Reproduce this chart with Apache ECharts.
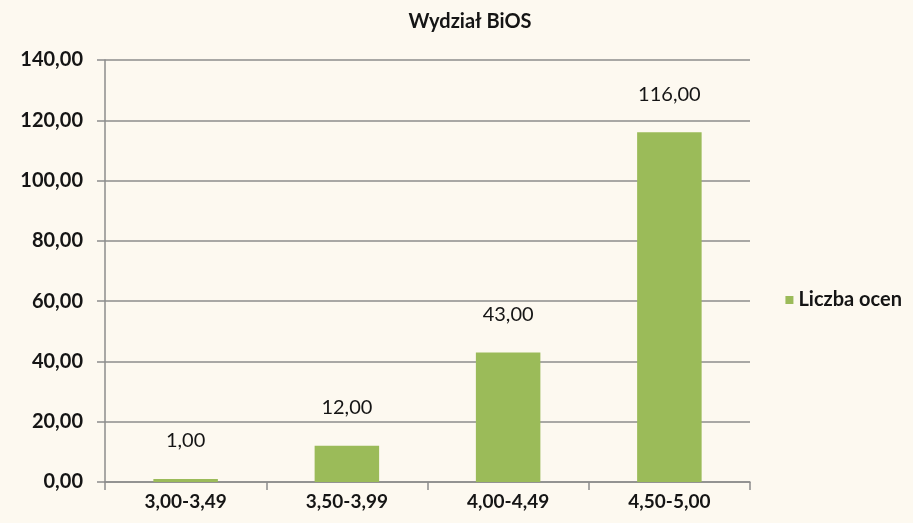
<!DOCTYPE html>
<html>
<head>
<meta charset="utf-8">
<title>Wydział BiOS</title>
<script src="https://cdn.jsdelivr.net/npm/echarts@6/dist/echarts.min.js"></script>
<style>
  html, body { margin: 0; padding: 0; background: #fdf9f0; }
  #main { width: 913px; height: 523px; }
</style>
</head>
<body>
<div id="main"></div>
<script>
// dane wykresu
var categories = ['3,00-3,49', '3,50-3,99', '4,00-4,49', '4,50-5,00'];
var liczbaOcen = [1, 12, 43, 116];
var seriesName = 'Liczba ocen';
var yMax = 140;
var yStep = 20;

// format z przecinkiem, np. 116,00
var fmt = function (v) {
    return Number(v).toFixed(2).replace('.', ',');
};

var chart = echarts.init(document.getElementById('main'));
var font = 'Lato, "Open Sans", sans-serif';

var option = {
    backgroundColor: '#fdf9f0',
    animation: false,
    title: {
        text: 'Wydział BiOS',
        left: 465,
        top: 7,
        textAlign: 'center',
        textStyle: { fontFamily: font, fontSize: 20, fontWeight: 'bold', color: '#151515' }
    },
    legend: {
        data: [seriesName],
        right: 6,
        top: 285,
        itemWidth: 8,
        itemHeight: 8,
        itemGap: 6,
        icon: 'rect',
        textStyle: { fontFamily: font, fontSize: 20, fontWeight: 'bold', color: '#151515' }
    },
    grid: {
        left: 105,
        right: 163,
        top: 60,
        bottom: 41
    },
    xAxis: {
        type: 'category',
        data: categories,
        axisLine: { lineStyle: { color: '#8c8c8c', width: 1.5 } },
        axisTick: { show: true, length: 8, lineStyle: { color: '#8c8c8c', width: 1.5 } },
        axisLabel: {
            fontFamily: font, fontSize: 19, fontWeight: 'bold', color: '#151515', margin: 10
        }
    },
    yAxis: {
        type: 'value',
        min: 0,
        max: yMax,
        interval: yStep,
        axisLine: { show: true, lineStyle: { color: '#8c8c8c', width: 1.5 } },
        axisTick: { show: true, length: 8, lineStyle: { color: '#8c8c8c', width: 1.5 } },
        splitLine: { lineStyle: { color: '#8c8c8c', width: 1.5 } },
        axisLabel: {
            fontFamily: font, fontSize: 20, fontWeight: 'bold', color: '#151515', margin: 22,
            formatter: fmt
        }
    },
    series: [
        {
            name: seriesName,
            type: 'bar',
            data: liczbaOcen,
            barWidth: '40%',
            itemStyle: { color: '#9bbb59' },
            label: {
                show: true,
                position: 'top',
                distance: 28,
                fontFamily: font,
                fontSize: 20,
                color: '#151515',
                formatter: function (p) { return fmt(p.value); }
            }
        }
    ]
};
option && chart.setOption(option);
</script>
</body>
</html>
